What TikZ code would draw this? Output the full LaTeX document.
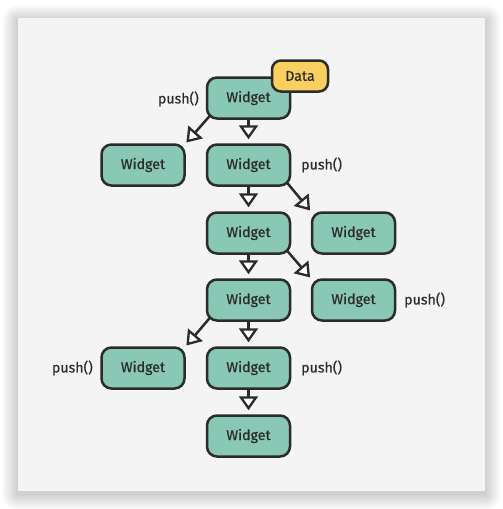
\documentclass[tikz,border=0pt]{standalone}
\usepackage{fontspec}
\setmainfont{Fira Sans}[FakeBold=0.5]
\newfontfamily\labelfont{Fira Sans}[FakeBold=0.5]
\usetikzlibrary{arrows.meta}
\definecolor{panel}{HTML}{F4F4F4}
\definecolor{widgetfill}{HTML}{88C8B4}
\definecolor{datafill}{HTML}{F9CF5F}
\definecolor{ink}{HTML}{2B2B2B}
\tikzset{
  widget/.style={draw=ink, line width=2.5pt, fill=widgetfill, rounded corners=10pt,
    minimum width=83pt, minimum height=41pt, inner sep=0pt, text=ink,
    font=\labelfont\fontsize{14.2}{16}\selectfont},
  databox/.style={widget, fill=datafill, minimum width=56pt, minimum height=31pt,
    rounded corners=9pt},
  lbl/.style={text=ink, font=\labelfont\fontsize{14.2}{16}\selectfont, inner sep=0pt},
  link/.style={draw=ink, line width=2.5pt, shorten >=4pt,
    -{Triangle[length=14pt, width=19pt, fill=white, line width=2.3pt]}}
}
\begin{document}
\begin{tikzpicture}[x=1pt, y=-1pt]
\useasboundingbox (0,0) rectangle (503,509);
% soft drop shadow behind the panel
\foreach \i in {1,...,16}{
  \fill[black, opacity=0.011, rounded corners=\i pt]
    (18-\i, 18-\i+3) rectangle (485+\i, 491+\i+3);
}
\fill[panel] (18,18) rectangle (485,491);

% widgets
\node[widget] (w1) at (248.5,98) {Widget};
\node[widget] (w2l) at (143,165) {Widget};
\node[widget] (w2) at (248.5,165) {Widget};
\node[widget] (w3) at (248.5,233) {Widget};
\node[widget] (w3r) at (353.5,233) {Widget};
\node[widget] (w4) at (248.5,300) {Widget};
\node[widget] (w4r) at (353.5,300) {Widget};
\node[widget] (w5l) at (143,368) {Widget};
\node[widget] (w5) at (248.5,368) {Widget};
\node[widget] (w6) at (248.5,436) {Widget};
\node[databox] (data) at (300,76) {Data};

% method labels
\node[lbl, anchor=east] (p1) at (199,99) {push()};
\node[lbl, anchor=west] (p2) at (301,165) {push()};
\node[lbl, anchor=west] (p3) at (404,300) {push()};
\node[lbl, anchor=east] (p4) at (93,368) {push()};
\node[lbl, anchor=west] (p5) at (301,368) {push()};

% connectors
\draw[link] (w1.south) -- (w2.north);
\draw[link] (w2.south) -- (w3.north);
\draw[link] (w3.south) -- (w4.north);
\draw[link] (w4.south) -- (w5.north);
\draw[link] (w5.south) -- (w6.north);
\draw[link, shorten >=1pt] (w1.south west) ++(5,-5) coordinate (a1) (a1) -- (w2l.north east);
\draw[link, shorten >=1pt] (w2.south east) ++(-5,-5) coordinate (a2) (a2) -- (w3r.north west);
\draw[link, shorten >=1pt] (w3.south east) ++(-5,-5) coordinate (a3) (a3) -- (w4r.north west);
\draw[link, shorten >=1pt] (w4.south west) ++(5,-5) coordinate (a4) (a4) -- (w5l.north east);
\end{tikzpicture}
\end{document}
